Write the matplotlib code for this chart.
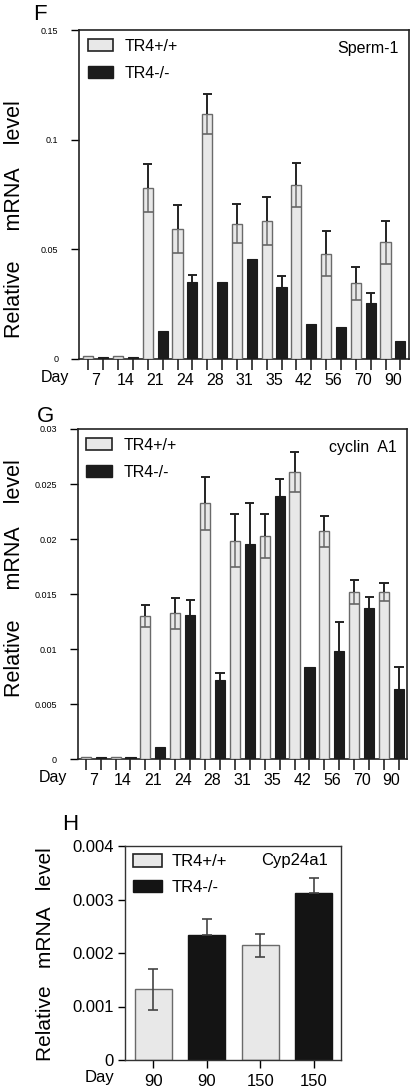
import numpy as np
import matplotlib
matplotlib.use("Agg")
import matplotlib.pyplot as plt
from matplotlib.patches import Patch

plt.rcParams['font.family'] = ['Liberation Sans', 'DejaVu Sans']

# ---------------- data ----------------
days_fg = ["7", "14", "21", "24", "28", "31", "35", "42", "56", "70", "90"]

sperm_wt = [0.0015, 0.0015, 0.078, 0.0594, 0.1117, 0.0617, 0.063, 0.0795, 0.048, 0.0345, 0.0533]
sperm_wt_err = [0.0, 0.0, 0.011, 0.011, 0.009, 0.0088, 0.011, 0.010, 0.0103, 0.0076, 0.0098]
sperm_ko = [0.0008, 0.0008, 0.0129, 0.0353, 0.0353, 0.0458, 0.033, 0.0159, 0.0145, 0.0256, 0.0083]
sperm_ko_err = [0.0, 0.0, 0.0, 0.003, 0.0, 0.0, 0.005, 0.0, 0.0, 0.0044, 0.0]

cyc_wt = [0.0002, 0.0002, 0.0130, 0.01325, 0.02327, 0.01985, 0.0203, 0.0261, 0.0207, 0.01518, 0.01518]
cyc_wt_err = [0.0, 0.0, 0.001, 0.0014, 0.0024, 0.0024, 0.002, 0.0018, 0.0014, 0.0011, 0.0008]
cyc_ko = [0.0002, 0.0002, 0.00114, 0.0131, 0.0072, 0.01955, 0.0239, 0.0084, 0.00988, 0.01373, 0.00634]
cyc_ko_err = [0.0, 0.0, 0.0, 0.0014, 0.0006, 0.0037, 0.0016, 0.0, 0.0026, 0.001, 0.002]

days_h = ["90", "90", "150", "150"]
cyp_vals = [0.00132, 0.002345, 0.002144, 0.00313]
cyp_err = [0.00038, 0.00029, 0.00021, 0.00027]
cyp_geno = ["wt", "ko", "wt", "ko"]

LIGHT = "#e8e8e8"
LIGHT_EDGE = "#6a6a6a"
DARK = "#1c1c1c"

W, H = 416, 1087
fig = plt.figure(figsize=(W / 100, H / 100), dpi=100)


def ax_px(left, top, right, bottom):
    return fig.add_axes([left / W, 1 - bottom / H, (right - left) / W, (bottom - top) / H])


def time_panel(ax, wt, wt_err, ko, ko_err, ymax, yticks, ytlabels, xlim, gene):
    n = len(days_fg)
    pos_wt = np.arange(n) * 2.0
    pos_ko = pos_wt + 1.0
    bw = 0.68
    ax.bar(pos_wt, wt, width=bw, color=LIGHT, edgecolor=LIGHT_EDGE, linewidth=1.0, zorder=3)
    ax.bar(pos_ko, ko, width=bw, color=DARK, edgecolor=DARK, linewidth=0.8, zorder=3)
    wt = np.array(wt); wt_err = np.array(wt_err)
    ko = np.array(ko); ko_err = np.array(ko_err)
    m = wt_err > 0
    # upper error (black T) for WT
    ax.vlines(pos_wt[m], wt[m], wt[m] + wt_err[m], color="#222222", lw=1.4, zorder=4)
    ax.hlines(wt[m] + wt_err[m], pos_wt[m] - bw * 0.45, pos_wt[m] + bw * 0.45, color="#222222", lw=1.4, zorder=4)
    # lower error inside WT bar (grey)
    ax.vlines(pos_wt[m], wt[m] - wt_err[m], wt[m], color="#777777", lw=1.2, zorder=4)
    ax.hlines(wt[m] - wt_err[m], pos_wt[m] - bw / 2, pos_wt[m] + bw / 2, color="#666666", lw=1.2, zorder=4)
    k = ko_err > 0
    ax.vlines(pos_ko[k], ko[k], ko[k] + ko_err[k], color="#222222", lw=1.4, zorder=4)
    ax.hlines(ko[k] + ko_err[k], pos_ko[k] - bw * 0.45, pos_ko[k] + bw * 0.45, color="#222222", lw=1.4, zorder=4)

    ax.set_xlim(*xlim)
    ax.set_ylim(0, ymax)
    ax.set_yticks(yticks)
    ax.set_yticklabels(ytlabels, fontsize=6.5)
    allpos = np.sort(np.concatenate([pos_wt, pos_ko]))
    ax.set_xticks(allpos)
    ax.set_xticklabels([""] * len(allpos))
    ax.set_xticks(pos_wt + 0.5, minor=True)
    ax.set_xticklabels(days_fg, minor=True, fontsize=11.5)
    ax.tick_params(axis="x", which="major", direction="out", length=8, width=1.2, color="#222222")
    ax.tick_params(axis="x", which="minor", length=0, pad=10)
    ax.tick_params(axis="y", direction="out", length=6, width=1.0, pad=9)
    for s in ax.spines.values():
        s.set_linewidth(1.2)
        s.set_color("#222222")
    ax.text(-0.074, -0.055, "Day", transform=ax.transAxes, ha="center", va="center", fontsize=11.5)
    ax.text(0.97, 0.945, gene, transform=ax.transAxes, ha="right", va="center", fontsize=11.5)
    handles = [Patch(facecolor=LIGHT, edgecolor="#222222", linewidth=1.2),
               Patch(facecolor=DARK, edgecolor=DARK)]
    ax.legend(handles, ["TR4+/+", "TR4-/-"], loc="upper left", frameon=False,
              fontsize=11.5, handlelength=1.6, handleheight=0.8, labelspacing=0.75,
              borderaxespad=0.25, handletextpad=0.7, borderpad=0.3)


# ---------------- F ----------------
axF = ax_px(79, 30, 409, 359)
time_panel(axF, sperm_wt, sperm_wt_err, sperm_ko, sperm_ko_err, 0.15,
           [0, 0.05, 0.1, 0.15], ["0", "0.05", "0.1", "0.15"], (-0.63, 21.58), "Sperm-1")
fig.text(40 / W, 1 - 15 / H, "F", fontsize=16, ha="center", va="center")
fig.text(15 / W, 1 - 219 / H, "Relative     mRNA    level", rotation=90,
         fontsize=15.5, ha="center", va="center")

# ---------------- G ----------------
axG = ax_px(77.7, 429, 407, 759.3)
time_panel(axG, cyc_wt, cyc_wt_err, cyc_ko, cyc_ko_err, 0.03,
           [0, 0.005, 0.01, 0.015, 0.02, 0.025, 0.03],
           ["0", "0.005", "0.01", "0.015", "0.02", "0.025", "0.03"], (-0.54, 21.54), "cyclin  A1")
fig.text(45 / W, 1 - 416 / H, "G", fontsize=16, ha="center", va="center")
fig.text(15 / W, 1 - 578 / H, "Relative     mRNA    level", rotation=90,
         fontsize=15.5, ha="center", va="center")

# ---------------- H ----------------
axH = ax_px(125, 846, 341, 1060)
xh = np.arange(len(cyp_vals))
cols = [LIGHT if g == "wt" else "#141414" for g in cyp_geno]
edges = [LIGHT_EDGE if g == "wt" else "#141414" for g in cyp_geno]
axH.bar(xh, cyp_vals, width=0.69, color=cols, edgecolor=edges, linewidth=1.0, zorder=2)
for i, (v, e, g) in enumerate(zip(cyp_vals, cyp_err, cyp_geno)):
    lower = e if g == "wt" else 0.0
    axH.errorbar(xh[i], v, yerr=[[lower], [e]], fmt="none", ecolor="#444444",
                 elinewidth=1.2, capsize=3.5, capthick=1.2, zorder=3)
axH.set_xlim(-0.53, 3.51)
axH.set_ylim(0, 0.004)
axH.set_yticks([0, 0.001, 0.002, 0.003, 0.004])
axH.set_yticklabels(["0", "0.001", "0.002", "0.003", "0.004"], fontsize=12)
axH.set_xticks(xh)
axH.set_xticklabels(days_h, fontsize=12)
axH.tick_params(axis="x", direction="out", length=6, width=1.0, pad=4)
axH.tick_params(axis="y", direction="out", length=5, width=1.0, pad=3)
for s in axH.spines.values():
    s.set_linewidth(1.0)
    s.set_color("#333333")
axH.text(-0.12, -0.084, "Day", transform=axH.transAxes, ha="center", va="center", fontsize=12)
axH.text(0.94, 0.93, "Cyp24a1", transform=axH.transAxes, ha="right", va="center", fontsize=12)
hh = [Patch(facecolor=LIGHT, edgecolor="#222222", linewidth=1.2),
      Patch(facecolor="#141414", edgecolor="#141414")]
axH.legend(hh, ["TR4+/+", "TR4-/-"], loc="upper left", frameon=False,
           fontsize=12, handlelength=1.7, handleheight=0.8, labelspacing=0.6,
           borderaxespad=0.2, handletextpad=0.6, borderpad=0.3)
fig.text(70 / W, 1 - 824 / H, "H", fontsize=16, ha="center", va="center")
fig.text(46 / W, 1 - 954 / H, "Relative   mRNA   level", rotation=90,
         fontsize=15, ha="center", va="center")

fig.savefig("out.png", dpi=100)
